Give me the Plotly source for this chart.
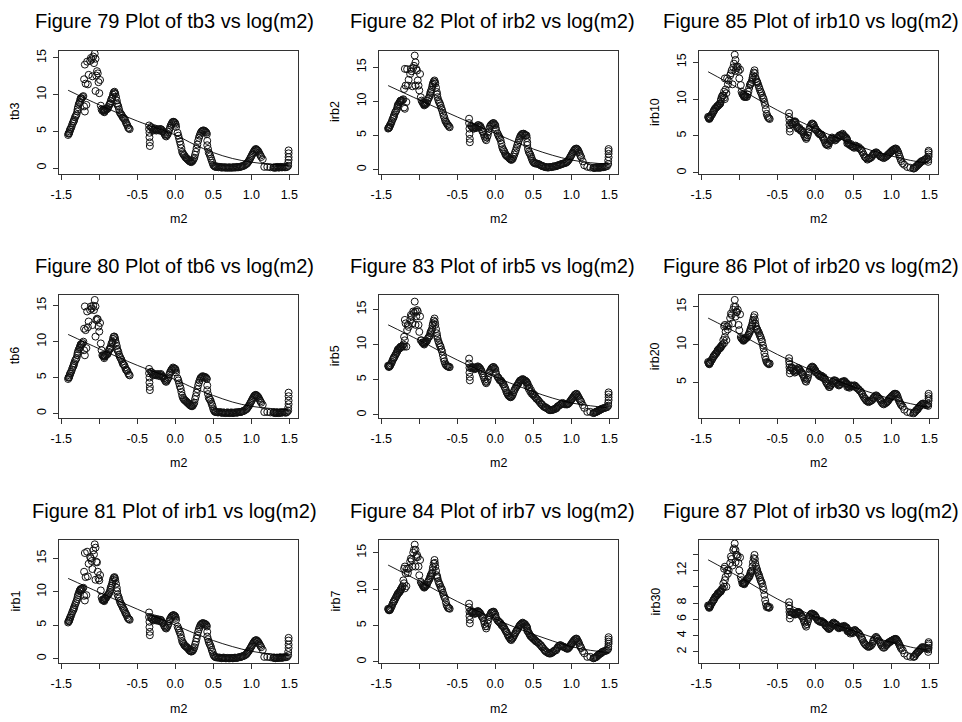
import plotly.graph_objects as go

# shared x: log(m2) -- first batch of observations
m2 = [
    -1.41, -1.40, -1.39, -1.38, -1.36, -1.34, -1.33, -1.31, -1.29, -1.28, -1.26, -1.25, -1.24, -1.22,
    -1.21, -1.20, -1.20, -1.19, -1.19, -1.18, -1.17, -1.16, -1.15, -1.14, -1.12, -1.11, -1.10, -1.09,
    -1.08, -1.07, -1.06, -1.05, -1.05, -1.04, -1.03, -1.02, -1.01, -1.00, -0.99, -0.98, -0.97, -0.96,
    -0.95, -0.94, -0.93, -0.92, -0.90, -0.88, -0.86, -0.85, -0.83, -0.82, -0.80, -0.79, -0.77, -0.76,
    -0.74, -0.72, -0.70, -0.68, -0.66, -0.64, -0.62, -0.60,
    -0.345, -0.345, -0.34, -0.34, -0.335, -0.335,
    -0.32, -0.30, -0.28, -0.26, -0.24, -0.22, -0.20, -0.18, -0.16, -0.14, -0.12, -0.10, -0.08, -0.06,
    -0.04, -0.02, 0.00, 0.01,
    0.03, 0.05, 0.07, 0.09, 0.11, 0.13, 0.15, 0.17, 0.19, 0.21, 0.23, 0.25, 0.27, 0.29, 0.31, 0.33,
    0.35, 0.37, 0.39, 0.41, 0.42, 0.42, 0.44, 0.46, 0.48, 0.50, 0.52,
    0.54, 0.57, 0.60, 0.62, 0.65, 0.67, 0.70, 0.72, 0.75, 0.77, 0.80, 0.82, 0.85, 0.87, 0.90, 0.93,
    0.95, 0.97, 0.99, 1.01, 1.03, 1.05, 1.07, 1.09, 1.11, 1.13, 1.15,
    1.17, 1.21, 1.25,
    1.29, 1.31, 1.33, 1.35, 1.37, 1.39, 1.41, 1.44, 1.47,
    1.485, 1.485, 1.49, 1.49, 1.49, 1.49,
]

# second batch of observations in the dense bands
m2_b = [
    -1.405, -1.395, -1.385, -1.37, -1.35, -1.335, -1.32, -1.30, -1.285, -1.27, -1.255, -1.245, -1.23,
    -0.945, -0.935, -0.925, -0.91, -0.89, -0.87, -0.855, -0.84, -0.825, -0.81, -0.795, -0.78, -0.765,
    -0.75, -0.73, -0.71, -0.69, -0.67, -0.65, -0.63, -0.61,
    -0.31, -0.29, -0.27, -0.25, -0.23, -0.21, -0.19, -0.17, -0.15, -0.13, -0.11, -0.09, -0.07, -0.05,
    -0.03, -0.01, 0.005,
    0.04, 0.06, 0.08, 0.10, 0.12, 0.14, 0.16, 0.18, 0.20, 0.22, 0.24, 0.26, 0.28, 0.30, 0.32, 0.34,
    0.36, 0.38, 0.40, 0.415, 0.43, 0.45, 0.47, 0.49, 0.51, 0.53,
    0.555, 0.585, 0.61, 0.635, 0.66, 0.685, 0.71, 0.735, 0.76, 0.785, 0.81, 0.835, 0.86, 0.885, 0.915,
    0.94, 0.96, 0.98, 1.00, 1.02, 1.04, 1.06, 1.08, 1.10, 1.12,
    1.30, 1.32, 1.34, 1.36, 1.38, 1.40, 1.425, 1.455,
]

tb3 = [
    4.5, 4.7, 5.0, 5.3, 5.8, 6.3, 6.6, 7.1, 7.7, 8.3, 8.9, 9.3, 9.5, 9.7,
    9.8, 12.1, 8.4, 14.1, 7.7, 11.5, 8.6, 14.5, 11.4, 12.7, 14.6, 15.0, 14.8, 12.5,
    15.2, 14.3, 15.6, 14.9, 10.5, 12.6, 13.2, 12.9, 11.7, 10.2, 12.0, 8.5, 8.0, 7.8,
    7.9, 7.8, 7.7, 7.9, 8.0, 8.3, 8.7, 9.1, 9.5, 10.0, 10.4, 10.1, 9.2, 8.6, 8.0, 7.4, 7.1, 6.8, 6.5, 6.0, 5.5, 5.3,
    5.8, 5.3, 4.8, 4.2, 3.5, 3.0,
    5.6, 5.3, 5.2, 5.3, 5.2, 5.2, 5.3, 5.2, 5.0, 4.6, 4.3, 4.6, 5.2, 5.8, 6.2, 6.3, 6.1, 5.6,
    4.8, 4.0, 3.2, 2.2, 1.8, 1.5, 1.3, 1.1, 0.9, 0.8, 1.0, 1.4, 2.2, 3.2, 4.1, 4.7, 5.0, 5.1, 5.0, 4.8,
    3.7, 3.1, 2.1, 1.6, 1.0, 0.4, 0.2,
    0.15, 0.1, 0.1, 0.1, 0.05, 0.05, 0.05, 0.05, 0.05, 0.1, 0.1, 0.1, 0.15, 0.2, 0.3, 0.5,
    0.7, 1.0, 1.4, 1.8, 2.2, 2.5, 2.5, 2.3, 1.9, 1.5, 1.2,
    0.15, 0.15, 0.1,
    0.05, 0.05, 0.1, 0.1, 0.1, 0.1, 0.1, 0.1, 0.15,
    0.3, 0.7, 1.1, 1.5, 2.0, 2.4,
]
tb3_b = [
    4.7, 4.8, 5.2, 5.5, 6.1, 6.4, 6.9, 7.3, 8.0, 8.7, 9.0, 9.5, 9.5,
    8.0, 7.6, 7.9, 8.1, 8.1, 8.6, 8.8, 9.4, 9.7, 10.3, 10.2, 9.7, 8.8, 8.4, 7.6, 7.3, 6.9, 6.7, 6.2, 5.8, 5.4,
    5.5, 5.1, 5.4, 5.1, 5.3, 5.1, 5.3, 5.0, 4.8, 4.4, 4.5, 4.9, 5.5, 6.0, 6.3, 6.2, 5.9,
    4.4, 3.6, 2.7, 2.0, 1.7, 1.4, 1.2, 1.0, 0.85, 0.9, 1.2, 1.8, 2.7, 3.7, 4.4, 4.9, 5.1, 5.1, 4.9, 4.6,
    2.6, 1.9, 1.3, 0.7, 0.3, 0.15,
    0.2, 0.15, 0.05, 0.1, 0.1, 0.05, 0.1, 0.05, 0.1, 0.05, 0.15, 0.1, 0.2, 0.25, 0.4,
    0.6, 0.85, 1.2, 1.6, 2.0, 2.35, 2.6, 2.4, 2.1, 1.7,
    0.1, 0.05, 0.15, 0.05, 0.15, 0.1, 0.15, 0.1,
]

tb6 = [
    4.8, 5.0, 5.3, 5.6, 6.1, 6.6, 7.0, 7.5, 8.1, 8.6, 9.1, 9.4, 9.6, 9.8,
    10.0, 11.8, 8.8, 14.9, 8.1, 11.6, 9.1, 14.2, 12.0, 12.8, 14.4, 14.9, 14.6, 12.3,
    15.0, 14.4, 15.8, 14.9, 10.7, 13.0, 13.2, 13.1, 12.1, 11.4, 12.6, 9.75, 8.8, 8.1,
    8.0, 7.9, 7.9, 8.0, 8.2, 8.6, 9.0, 9.3, 9.9, 10.4, 10.7, 10.2, 9.4, 8.8, 8.2, 7.7, 7.2, 6.8, 6.4, 6.0, 5.6, 5.3,
    6.2, 5.6, 5.0, 4.3, 3.7, 3.25,
    5.8, 5.5, 5.4, 5.4, 5.4, 5.3, 5.4, 5.3, 5.1, 4.7, 4.4, 4.8, 5.4, 5.9, 6.2, 6.3, 6.2, 5.7,
    4.9, 4.2, 3.5, 2.5, 2.0, 1.8, 1.6, 1.4, 1.2, 1.05, 1.1, 1.5, 2.4, 3.4, 4.3, 4.9, 5.1, 5.1, 5.1, 4.9,
    3.9, 3.25, 2.2, 1.9, 1.3, 0.6, 0.25,
    0.2, 0.15, 0.15, 0.1, 0.1, 0.1, 0.1, 0.1, 0.1, 0.1, 0.15, 0.15, 0.2, 0.25, 0.35, 0.55,
    0.8, 1.1, 1.5, 1.9, 2.3, 2.55, 2.5, 2.3, 1.9, 1.5, 1.2,
    0.2, 0.2, 0.15,
    0.1, 0.1, 0.1, 0.1, 0.1, 0.15, 0.15, 0.15, 0.2,
    0.4, 0.8, 1.3, 1.8, 2.4, 2.9,
]
tb6_b = [
    5.0, 5.1, 5.5, 5.8, 6.4, 6.8, 7.3, 7.7, 8.4, 8.9, 9.2, 9.6, 9.6,
    8.1, 7.7, 8.1, 8.2, 8.3, 8.9, 9.0, 9.7, 10.0, 10.7, 10.5, 9.8, 9.0, 8.6, 7.9, 7.5, 6.9, 6.7, 6.1, 5.9, 5.4,
    5.7, 5.3, 5.5, 5.3, 5.5, 5.2, 5.5, 5.1, 4.9, 4.5, 4.6, 5.0, 5.7, 6.1, 6.4, 6.2, 6.0,
    4.6, 3.8, 3.0, 2.2, 1.9, 1.7, 1.5, 1.3, 1.1, 1.0, 1.3, 2.0, 2.9, 3.9, 4.6, 5.0, 5.2, 5.0, 5.0, 4.8,
    2.7, 2.0, 1.6, 1.0, 0.4, 0.2,
    0.15, 0.2, 0.1, 0.15, 0.05, 0.15, 0.05, 0.15, 0.05, 0.15, 0.1, 0.2, 0.2, 0.3, 0.45,
    0.65, 0.95, 1.3, 1.7, 2.1, 2.45, 2.6, 2.4, 2.1, 1.7,
    0.15, 0.05, 0.15, 0.05, 0.15, 0.1, 0.2, 0.1,
]

irb1 = [
    5.4, 5.6, 5.9, 6.2, 6.8, 7.3, 7.7, 8.3, 8.9, 9.5, 10.1, 10.3, 10.4, 10.5,
    10.6, 13.0, 9.4, 15.8, 8.7, 12.2, 9.5, 16.0, 12.3, 14.2, 15.2, 15.0, 14.6, 13.4,
    16.2, 15.6, 17.1, 16.6, 11.8, 14.5, 14.4, 13.0, 12.0, 11.7, 12.5, 10.2, 9.2, 8.8,
    8.7, 8.7, 8.8, 9.0, 9.3, 9.6, 10.0, 10.6, 11.2, 11.8, 12.2, 11.7, 10.6, 9.6, 9.0, 8.3, 7.9, 7.4, 6.9, 6.5, 6.0, 5.8,
    6.9, 6.2, 5.5, 4.7, 4.0, 3.5,
    6.2, 5.9, 5.8, 5.9, 5.8, 5.7, 5.8, 5.6, 5.3, 4.8, 4.5, 4.9, 5.6, 6.1, 6.4, 6.5, 6.3, 5.8,
    4.8, 4.2, 3.6, 2.6, 2.2, 1.9, 1.7, 1.5, 1.2, 1.05, 1.2, 1.7, 2.5, 3.5, 4.4, 5.0, 5.25, 5.3, 5.2, 5.0,
    4.0, 3.3, 2.5, 2.0, 1.3, 0.6, 0.3,
    0.2, 0.15, 0.1, 0.1, 0.1, 0.05, 0.05, 0.05, 0.05, 0.1, 0.1, 0.15, 0.2, 0.3, 0.4, 0.6,
    0.9, 1.2, 1.6, 2.0, 2.4, 2.7, 2.75, 2.5, 2.1, 1.7, 1.3,
    0.25, 0.25, 0.2,
    0.1, 0.1, 0.1, 0.1, 0.15, 0.15, 0.15, 0.2, 0.25,
    0.5, 1.0, 1.6, 2.1, 2.7, 3.1,
]
irb1_b = [
    5.6, 5.7, 6.1, 6.5, 7.1, 7.5, 8.0, 8.6, 9.2, 9.8, 10.2, 10.4, 10.4,
    8.9, 8.6, 9.0, 9.1, 9.5, 9.8, 10.3, 10.9, 11.5, 12.1, 12.0, 11.2, 10.1, 9.3, 8.6, 8.1, 7.6, 7.2, 6.7, 6.2, 5.9,
    6.0, 5.7, 6.0, 5.7, 5.9, 5.6, 5.8, 5.4, 5.0, 4.6, 4.7, 5.2, 5.9, 6.3, 6.5, 6.4, 6.1,
    4.5, 3.9, 3.1, 2.4, 2.0, 1.8, 1.6, 1.3, 1.1, 1.1, 1.4, 2.1, 3.0, 4.0, 4.7, 5.1, 5.3, 5.2, 5.1, 4.8,
    2.9, 2.2, 1.7, 1.0, 0.4, 0.2,
    0.15, 0.15, 0.05, 0.15, 0.05, 0.1, 0.05, 0.1, 0.05, 0.15, 0.1, 0.2, 0.25, 0.35, 0.5,
    0.75, 1.05, 1.4, 1.8, 2.2, 2.55, 2.75, 2.6, 2.3, 1.9,
    0.15, 0.05, 0.15, 0.1, 0.2, 0.1, 0.2, 0.2,
]

irb2 = [
    6.0, 6.1, 6.3, 6.6, 7.1, 7.6, 8.0, 8.5, 9.0, 9.5, 9.8, 10.0, 10.1, 10.2,
    10.3, 11.8, 9.1, 14.75, 8.9, 12.3, 9.9, 14.7, 12.3, 13.15, 14.0, 14.75, 14.4, 12.2,
    14.9, 15.2, 16.7, 15.7, 12.3, 14.75, 14.5, 13.05, 12.3, 11.6, 14.0, 10.6, 10.1, 9.9,
    9.7, 9.6, 9.5, 9.6, 9.8, 10.4, 10.9, 11.4, 12.1, 12.6, 13.05, 12.6, 11.35, 10.6, 9.9, 9.4, 8.7, 7.9, 7.2, 6.8, 6.5, 6.2,
    7.45, 6.8, 6.0, 5.2, 4.5, 4.0,
    6.4, 6.2, 6.0, 6.1, 6.3, 6.5, 6.4, 5.9, 5.5, 4.8, 4.3, 5.0, 6.0, 6.5, 6.7, 6.8, 6.5, 5.8,
    5.3, 4.8, 4.3, 3.3, 2.8, 2.3, 2.0, 1.85, 1.6, 1.4, 1.6, 2.2, 2.8, 3.6, 4.3, 4.9, 5.2, 5.26, 5.1, 5.0,
    4.0, 3.6, 2.6, 2.2, 1.6, 1.1, 0.9,
    0.9, 0.8, 0.6, 0.5, 0.4, 0.35, 0.3, 0.35, 0.4, 0.45, 0.5, 0.6, 0.7, 0.8, 0.9, 1.0,
    1.2, 1.5, 1.9, 2.3, 2.7, 3.0, 3.07, 2.8, 2.3, 1.8, 1.2,
    0.63, 0.4, 0.3,
    0.25, 0.25, 0.3, 0.3, 0.3, 0.3, 0.35, 0.4, 0.5,
    0.8, 1.3, 1.8, 2.3, 2.7, 3.0,
]
irb2_b = [
    6.1, 6.2, 6.5, 6.8, 7.4, 7.8, 8.3, 8.7, 9.3, 9.6, 9.9, 10.1, 10.1,
    9.8, 9.4, 9.7, 9.6, 10.1, 10.6, 11.2, 11.7, 12.4, 12.9, 12.8, 12.0, 11.0, 10.2, 9.7, 9.0, 8.3, 7.6, 7.0, 6.6, 6.3,
    6.3, 6.0, 6.2, 6.1, 6.5, 6.3, 6.2, 5.6, 5.1, 4.5, 4.7, 5.5, 6.3, 6.6, 6.8, 6.6, 6.1,
    5.0, 4.6, 3.8, 3.0, 2.6, 2.1, 1.9, 1.7, 1.5, 1.5, 1.9, 2.5, 3.2, 3.9, 4.6, 5.0, 5.2, 5.2, 5.0, 4.6,
    3.0, 2.4, 1.9, 1.3, 1.0, 0.9,
    0.85, 0.7, 0.55, 0.45, 0.35, 0.3, 0.35, 0.35, 0.45, 0.45, 0.55, 0.65, 0.75, 0.85, 0.95,
    1.1, 1.35, 1.7, 2.1, 2.5, 2.85, 3.05, 2.95, 2.55, 2.0,
    0.25, 0.3, 0.3, 0.25, 0.3, 0.35, 0.35, 0.45,
]

irb5 = [
    7.0, 6.8, 6.9, 7.1, 7.5, 8.0, 8.2, 8.6, 9.0, 9.3, 9.45, 9.6, 9.7, 9.8,
    10.0, 11.1, 9.7, 13.5, 10.6, 13.0, 9.7, 12.05, 12.8, 12.5, 13.5, 14.2, 14.0, 13.0,
    14.7, 14.5, 16.1, 14.7, 12.8, 14.0, 14.9, 14.7, 12.8, 11.8, 14.0, 10.6, 10.6, 10.3,
    10.2, 10.1, 10.2, 10.4, 10.5, 11.0, 11.3, 11.8, 12.3, 13.0, 13.7, 12.8, 11.6, 10.9, 10.2, 9.7, 9.0, 8.0, 7.3, 7.0, 6.9, 6.8,
    8.0, 7.3, 6.7, 6.0, 5.4, 4.9,
    6.8, 6.7, 6.6, 6.6, 6.8, 6.8, 6.6, 6.2, 5.6, 5.0, 4.5, 5.0, 6.0, 6.4, 6.7, 6.8, 6.5, 5.8,
    5.4, 5.1, 4.9, 4.6, 4.3, 3.8, 3.2, 2.8, 2.6, 2.56, 2.9, 3.5, 3.9, 4.2, 4.6, 4.9, 5.0, 5.0, 4.9, 4.7,
    4.5, 4.1, 3.7, 3.3, 3.0, 2.8, 2.6,
    2.3, 2.0, 1.6, 1.4, 1.1, 1.0, 0.8, 0.66, 0.7, 0.8, 0.9, 1.2, 1.4, 1.6, 1.6, 1.5,
    1.5, 1.7, 2.0, 2.3, 2.6, 2.9, 3.0, 2.6, 2.2, 1.85, 1.4,
    1.0, 0.43, 0.43,
    0.25, 0.35, 0.43, 0.55, 0.66, 0.8, 0.9, 1.0, 1.1,
    1.3, 1.7, 2.1, 2.5, 2.9, 3.2,
]
irb5_b = [
    6.9, 6.9, 7.0, 7.3, 7.8, 8.1, 8.4, 8.8, 9.2, 9.4, 9.5, 9.7, 9.7,
    10.3, 10.0, 10.3, 10.4, 10.8, 11.1, 11.6, 12.0, 12.7, 13.4, 13.2, 12.2, 11.2, 10.5, 9.9, 9.3, 8.5, 7.6, 7.1, 6.9, 6.8,
    6.6, 6.8, 6.5, 6.7, 6.9, 6.7, 6.4, 5.9, 5.3, 4.7, 4.7, 5.5, 6.2, 6.6, 6.8, 6.6, 6.1,
    5.3, 4.9, 4.8, 4.4, 4.0, 3.5, 3.0, 2.7, 2.5, 2.7, 3.2, 3.7, 4.1, 4.4, 4.8, 4.9, 5.1, 4.9, 4.8, 4.6,
    4.3, 3.9, 3.5, 3.1, 2.9, 2.5,
    2.2, 1.8, 1.5, 1.2, 1.1, 0.9, 0.7, 0.7, 0.75, 0.85, 1.05, 1.3, 1.5, 1.7, 1.5,
    1.5, 1.6, 1.85, 2.15, 2.45, 2.75, 2.95, 2.8, 2.4, 2.0,
    0.3, 0.4, 0.5, 0.6, 0.75, 0.85, 0.95, 1.05,
]

irb7 = [
    7.3, 7.1, 7.1, 7.3, 7.7, 8.2, 8.4, 8.8, 9.2, 9.4, 9.6, 9.8, 10.0, 10.4,
    11.2, 12.8, 10.8, 13.1, 10.1, 12.2, 10.4, 12.8, 12.2, 12.8, 13.8, 14.2, 14.0, 13.1,
    15.0, 15.4, 16.1, 15.4, 13.1, 14.4, 14.7, 14.4, 13.1, 11.9, 14.0, 11.0, 10.8, 10.6,
    10.4, 10.3, 10.3, 10.4, 10.6, 11.1, 11.5, 11.9, 12.2, 13.0, 14.0, 13.1, 11.9, 11.5, 10.8, 10.3, 9.9, 9.2, 8.7, 7.8, 7.4, 7.3,
    8.0, 7.5, 6.9, 6.3, 5.8, 5.3,
    7.0, 6.8, 6.65, 6.7, 6.9, 6.9, 6.7, 6.3, 6.0, 5.2, 4.6, 5.3, 6.2, 6.65, 6.8, 6.9, 6.5, 6.0,
    5.7, 5.5, 5.3, 5.0, 4.8, 4.4, 4.1, 3.6, 3.3, 3.0, 3.3, 3.7, 4.1, 4.4, 4.8, 5.1, 5.3, 5.3, 5.2, 4.9,
    4.6, 4.3, 4.0, 3.6, 3.4, 3.2, 3.0,
    2.8, 2.6, 2.3, 2.0, 1.6, 1.4, 1.2, 1.15, 1.3, 1.5, 1.6, 2.0, 2.3, 2.2, 2.1, 1.9,
    1.8, 2.0, 2.3, 2.6, 2.9, 3.1, 3.2, 2.8, 2.3, 1.9, 1.5,
    1.2, 0.7, 0.7,
    0.5, 0.6, 0.7, 0.9, 1.1, 1.2, 1.4, 1.5, 1.6,
    1.8, 2.1, 2.5, 2.8, 3.1, 3.4,
]
irb7_b = [
    7.2, 7.2, 7.2, 7.5, 8.0, 8.3, 8.6, 9.0, 9.3, 9.5, 9.7, 9.9, 10.2,
    10.5, 10.2, 10.4, 10.5, 10.9, 11.3, 11.7, 12.1, 12.6, 13.5, 13.6, 12.5, 11.7, 11.1, 10.6, 10.1, 9.5, 8.9, 8.2, 7.6, 7.4,
    6.8, 6.9, 6.6, 6.8, 7.0, 6.8, 6.5, 6.1, 5.6, 4.9, 4.9, 5.8, 6.4, 6.8, 6.9, 6.7, 6.2,
    5.6, 5.4, 5.1, 4.9, 4.6, 4.2, 3.8, 3.4, 3.1, 3.2, 3.5, 3.9, 4.3, 4.6, 5.0, 5.2, 5.4, 5.2, 5.0, 4.8,
    4.2, 3.8, 3.5, 3.3, 3.1, 2.9,
    2.7, 2.4, 2.1, 1.8, 1.5, 1.3, 1.2, 1.2, 1.4, 1.6, 1.8, 2.2, 2.3, 2.1, 2.0,
    1.85, 1.9, 2.15, 2.45, 2.75, 3.0, 3.2, 3.0, 2.6, 2.1,
    0.55, 0.65, 0.8, 1.0, 1.15, 1.3, 1.45, 1.55,
]

irb10 = [
    7.6, 7.4, 7.4, 7.6, 7.9, 8.3, 8.5, 8.8, 9.0, 9.1, 9.3, 9.4, 10.0, 10.5,
    10.5, 11.0, 10.2, 12.8, 10.0, 11.3, 10.8, 12.8, 12.0, 12.5, 13.2, 13.5, 13.9, 12.0,
    14.3, 14.8, 16.0, 15.3, 13.8, 14.4, 14.2, 14.4, 13.8, 12.8, 14.0, 11.9, 11.0, 10.7,
    10.6, 10.4, 10.3, 10.4, 10.3, 11.0, 11.9, 12.1, 12.6, 13.2, 13.9, 13.0, 12.4, 12.2, 11.6, 11.0, 10.5, 10.0, 9.2, 8.0, 7.5, 7.3,
    8.1, 7.6, 7.1, 6.5, 6.0, 5.6,
    6.8, 6.6, 6.9, 6.9, 6.2, 6.0, 5.9, 5.7, 5.5, 5.0, 4.6, 5.1, 5.9, 6.4, 6.7, 6.5, 6.0, 5.8,
    5.6, 5.4, 5.2, 5.0, 4.6, 4.1, 3.8, 3.7, 4.3, 4.6, 4.7, 4.6, 4.5, 4.7, 5.0, 5.1, 5.2, 5.1, 4.9, 4.7,
    4.4, 4.0, 4.0, 3.8, 3.6, 3.5, 3.6,
    3.6, 3.5, 3.2, 2.8, 2.2, 2.0, 1.9, 2.0, 2.3, 2.6, 2.8, 2.6, 2.3, 2.2, 2.0, 2.2,
    2.4, 2.6, 2.8, 3.0, 3.1, 3.3, 3.2, 2.8, 2.2, 1.6, 1.3,
    1.1, 0.8, 0.7,
    0.6, 0.7, 0.9, 1.1, 1.3, 1.5, 1.6, 1.8, 2.0,
    1.5, 1.8, 2.2, 2.5, 2.8, 3.0,
]
irb10_b = [
    7.5, 7.3, 7.5, 7.8, 8.1, 8.4, 8.7, 8.9, 9.1, 9.2, 9.4, 9.7, 10.3,
    10.5, 10.3, 10.4, 10.3, 10.6, 11.5, 12.0, 12.3, 12.9, 13.6, 13.5, 12.7, 12.3, 11.9, 11.3, 10.8, 10.2, 9.6, 8.6, 7.7, 7.4,
    6.6, 6.8, 7.0, 6.5, 6.0, 6.1, 5.7, 5.7, 5.2, 4.8, 4.8, 5.5, 6.2, 6.6, 6.6, 6.2, 5.9,
    5.4, 5.2, 5.2, 4.8, 4.4, 3.9, 3.9, 4.0, 4.4, 4.8, 4.6, 4.4, 4.7, 4.8, 5.1, 5.0, 5.3, 5.0, 4.8, 4.6,
    4.1, 3.8, 3.9, 3.6, 3.4, 3.7,
    3.4, 3.3, 3.0, 2.5, 2.1, 1.8, 2.0, 2.1, 2.5, 2.7, 2.7, 2.5, 2.2, 2.1, 2.1,
    2.3, 2.5, 2.7, 2.9, 3.1, 3.2, 3.3, 3.0, 2.5, 1.9,
    0.6, 0.8, 1.0, 1.2, 1.4, 1.6, 1.7, 1.9,
]

irb20 = [
    7.7, 7.5, 7.5, 7.7, 8.0, 8.4, 8.5, 8.8, 9.1, 9.3, 9.5, 9.6, 9.7, 10.0,
    10.6, 12.4, 10.2, 12.6, 11.0, 11.7, 10.6, 12.4, 12.0, 12.6, 13.5, 14.1, 13.9, 12.8,
    14.6, 15.0, 15.9, 15.0, 13.7, 14.3, 14.3, 14.6, 12.6, 11.9, 14.0, 11.0, 10.8, 10.7,
    10.6, 10.6, 10.7, 10.8, 10.9, 11.3, 11.7, 12.1, 12.6, 13.2, 13.9, 12.8, 12.1, 11.9, 11.5, 11.0, 10.4, 9.5, 8.4, 7.7, 7.5, 7.5,
    8.2, 7.8, 7.4, 7.0, 6.6, 6.2,
    6.9, 6.85, 6.5, 6.4, 6.7, 6.85, 6.6, 6.3, 6.0, 5.5, 5.1, 5.6, 6.4, 6.9, 7.1, 6.9, 6.6, 6.3,
    6.2, 6.0, 5.8, 5.75, 5.7, 5.4, 4.9, 4.6, 4.4, 4.7, 5.1, 5.3, 5.2, 4.9, 4.6, 4.8, 5.1, 5.1, 5.1, 4.9,
    4.7, 4.4, 4.4, 4.6, 4.6, 4.5, 4.6,
    4.4, 4.1, 3.8, 3.4, 2.9, 2.6, 2.4, 2.5, 2.7, 3.0, 3.3, 3.1, 2.8, 2.4, 2.1, 2.3,
    2.5, 2.8, 3.0, 3.2, 3.4, 3.5, 3.4, 2.9, 2.4, 2.0, 1.8,
    1.4, 1.1, 1.0,
    0.9, 1.1, 1.35, 1.5, 1.8, 2.0, 2.2, 2.1, 2.0,
    1.9, 2.2, 2.6, 2.9, 3.2, 3.5,
]
irb20_b = [
    7.6, 7.4, 7.6, 7.9, 8.2, 8.5, 8.7, 8.9, 9.2, 9.4, 9.5, 9.7, 9.9,
    10.5, 10.7, 10.7, 10.9, 11.1, 11.5, 11.9, 12.4, 12.9, 13.6, 13.3, 12.4, 12.0, 11.7, 11.2, 10.7, 9.9, 8.9, 8.0, 7.6, 7.4,
    7.0, 6.6, 6.3, 6.6, 6.9, 6.7, 6.4, 6.1, 5.7, 5.2, 5.4, 6.0, 6.7, 7.0, 7.0, 6.7, 6.4,
    6.0, 5.8, 5.9, 5.6, 5.5, 5.1, 4.8, 4.4, 4.6, 4.9, 5.2, 5.2, 5.0, 4.7, 4.7, 5.0, 5.0, 5.2, 4.9, 4.8,
    4.5, 4.3, 4.5, 4.5, 4.6, 4.4,
    4.2, 3.9, 3.6, 3.1, 2.8, 2.5, 2.5, 2.6, 2.9, 3.2, 3.2, 2.9, 2.6, 2.2, 2.2,
    2.4, 2.6, 2.9, 3.1, 3.3, 3.5, 3.5, 3.2, 2.6, 2.2,
    1.0, 1.2, 1.4, 1.7, 1.9, 2.1, 2.2, 2.0,
]

irb30 = [
    7.7, 7.5, 7.5, 7.7, 8.0, 8.35, 8.5, 8.8, 9.0, 9.2, 9.3, 9.4, 9.5, 9.8,
    10.4, 12.2, 10.0, 12.45, 10.8, 11.2, 10.0, 12.0, 11.6, 12.0, 12.9, 13.7, 13.4, 12.6,
    14.5, 14.7, 15.3, 14.5, 13.0, 13.9, 13.9, 13.7, 12.9, 12.0, 13.6, 11.2, 10.8, 10.4,
    10.4, 10.4, 10.4, 10.6, 10.8, 11.1, 11.4, 11.8, 12.0, 13.0, 13.9, 12.9, 12.2, 11.8, 11.4, 10.8, 10.4, 9.6, 8.35, 7.5, 7.5, 7.5,
    8.1, 7.7, 7.3, 6.9, 6.5, 6.1,
    6.9, 6.8, 6.7, 6.6, 6.8, 6.9, 6.7, 6.4, 6.1, 5.6, 5.1, 5.7, 6.3, 6.6, 6.7, 6.6, 6.4, 6.2,
    5.9, 5.8, 5.7, 5.7, 5.6, 5.3, 5.1, 4.9, 4.9, 5.2, 5.5, 5.5, 5.4, 5.1, 4.9, 5.0, 5.1, 5.1, 5.1, 5.0,
    4.8, 4.6, 4.5, 4.25, 4.4, 4.6, 4.7,
    4.5, 4.3, 3.85, 3.5, 3.0, 2.8, 2.6, 2.7, 3.0, 3.5, 3.85, 3.6, 3.2, 2.8, 2.5, 2.8,
    3.0, 3.2, 3.3, 3.4, 3.5, 3.6, 3.5, 3.2, 2.8, 2.4, 2.2,
    1.8, 1.5, 1.4,
    1.4, 1.5, 1.8, 2.0, 2.2, 2.4, 2.6, 2.5, 2.4,
    2.0, 2.3, 2.5, 2.8, 3.0, 3.2,
]
irb30_b = [
    7.6, 7.4, 7.6, 7.9, 8.2, 8.4, 8.7, 8.9, 9.1, 9.2, 9.4, 9.4, 9.7,
    10.5, 10.3, 10.5, 10.7, 11.0, 11.2, 11.6, 11.9, 12.5, 13.5, 13.4, 12.5, 12.0, 11.6, 11.1, 10.6, 10.0, 9.0, 7.9, 7.6, 7.4,
    6.8, 6.8, 6.6, 6.7, 6.9, 6.8, 6.5, 6.3, 5.8, 5.3, 5.4, 6.0, 6.5, 6.7, 6.6, 6.5, 6.3,
    5.9, 5.7, 5.8, 5.6, 5.5, 5.2, 5.0, 4.8, 5.0, 5.4, 5.6, 5.4, 5.3, 5.0, 5.0, 5.1, 5.0, 5.2, 5.0, 4.9,
    4.5, 4.6, 4.4, 4.3, 4.5, 4.6,
    4.4, 4.1, 3.7, 3.2, 2.9, 2.7, 2.7, 2.8, 3.3, 3.7, 3.7, 3.4, 3.0, 2.6, 2.6,
    2.9, 3.1, 3.2, 3.35, 3.45, 3.55, 3.6, 3.35, 3.0, 2.6,
    1.4, 1.7, 1.9, 2.1, 2.3, 2.5, 2.55, 2.45,
]

# fitted curves
fit_x = [-1.41, -1.0, -0.5, 0.0, 0.25, 0.5, 0.75, 1.0, 1.25, 1.49]
fit_tb3 = [10.6, 8.6, 6.4, 4.5, 3.2, 2.1, 1.3, 0.8, 0.5, 0.35]
fit_tb6 = [11.0, 9.0, 6.7, 4.7, 3.5, 2.5, 1.6, 1.0, 0.7, 0.5]
fit_irb1 = [12.0, 9.9, 7.4, 5.0, 3.8, 2.7, 1.8, 1.1, 0.7, 0.5]
fit_irb2 = [12.3, 10.2, 7.7, 5.3, 4.1, 3.0, 2.1, 1.4, 1.0, 0.8]
fit_irb5 = [12.8, 10.6, 7.8, 5.4, 4.3, 3.3, 2.4, 1.7, 1.3, 1.0]
fit_irb7 = [13.3, 11.1, 8.3, 5.9, 4.8, 3.8, 2.9, 2.1, 1.6, 1.3]
fit_irb10 = [13.7, 11.4, 8.5, 6.0, 4.9, 3.9, 3.0, 2.3, 1.7, 1.3]
fit_irb20 = [13.5, 11.4, 8.7, 6.4, 5.4, 4.4, 3.6, 2.8, 2.2, 1.7]
fit_irb30 = [13.3, 11.2, 8.5, 6.3, 5.4, 4.6, 3.8, 3.2, 2.6, 2.2]

x_tickvals = [-1.5, -1.0, -0.5, 0.0, 0.5, 1.0, 1.5]
x_ticktext = ["-1.5", "", "-0.5", "0.0", "0.5", "1.0", "1.5"]

# panels in row-major order
panels = [
    ("79", "tb3", tb3, tb3_b, fit_tb3),
    ("82", "irb2", irb2, irb2_b, fit_irb2),
    ("85", "irb10", irb10, irb10_b, fit_irb10),
    ("80", "tb6", tb6, tb6_b, fit_tb6),
    ("83", "irb5", irb5, irb5_b, fit_irb5),
    ("86", "irb20", irb20, irb20_b, fit_irb20),
    ("81", "irb1", irb1, irb1_b, fit_irb1),
    ("84", "irb7", irb7, irb7_b, fit_irb7),
    ("87", "irb30", irb30, irb30_b, fit_irb30),
]
for _, name, ys, yb, _f in panels:
    assert len(ys) == len(m2), (name, len(ys), len(m2))
    assert len(yb) == len(m2_b), (name + "_b", len(yb), len(m2_b))

y_ranges = {
    "tb3": [-0.75, 16.02], "irb2": [-0.58, 17.44], "irb10": [-0.08, 16.58],
    "tb6": [-0.56, 16.49], "irb5": [-0.37, 17.04], "irb20": [0.37, 16.55],
    "irb1": [-0.66, 17.75], "irb7": [-0.14, 16.74], "irb30": [0.64, 15.73],
}
std_ticks = ([0, 5, 10, 15], ["0", "5", "10", "15"])
y_ticks = {
    "irb20": ([5, 10, 15], ["5", "10", "15"]),
    "irb30": ([2, 4, 6, 8, 10, 12, 14], ["2", "4", "6", "8", "", "12", ""]),
}

W, H = 962, 722
col_px = [(59, 297.7), (379, 617.7), (699, 937.7)]
row_px = [(50.5, 173.5), (295, 417.5), (540, 663)]
FONT = "Liberation Sans, Arial, Helvetica, sans-serif"

fig = go.Figure()
layout = dict(
    template="none",
    width=W, height=H, autosize=False,
    margin=dict(l=0, r=0, t=0, b=0, pad=0),
    paper_bgcolor="white", plot_bgcolor="white",
    showlegend=False, font=dict(family=FONT, color="black"),
)
annotations = []

for k, (fignum, name, ys, yb, fit) in enumerate(panels):
    r, c = divmod(k, 3)
    sfx = "" if k == 0 else str(k + 1)
    x0, x1 = col_px[c]
    y0, y1 = row_px[r]
    tv, tt = y_ticks.get(name, std_ticks)
    layout["xaxis" + sfx] = dict(
        domain=[x0 / W, x1 / W], range=[-1.53, 1.61], anchor="y" + sfx,
        automargin=False,
        tickvals=x_tickvals, ticktext=x_ticktext, ticks="outside", ticklen=5,
        tickwidth=1, tickcolor="#333", showline=True, mirror=True,
        linecolor="#333", linewidth=1, showgrid=False, zeroline=False,
        tickfont=dict(size=12.5, family=FONT, color="black"), ticklabelstandoff=4,
    )
    layout["yaxis" + sfx] = dict(
        domain=[1 - y1 / H, 1 - y0 / H], range=y_ranges[name], anchor="x" + sfx,
        automargin=False,
        tickvals=tv, ticktext=tt, ticks="outside", ticklen=5, tickwidth=1,
        tickcolor="#333", showline=True, mirror=True, linecolor="#333",
        linewidth=1, showgrid=False, zeroline=False, tickangle=-90,
        tickfont=dict(size=12.5, family=FONT, color="black"), ticklabelstandoff=2,
    )
    fig.add_trace(go.Scatter(
        x=m2 + m2_b, y=ys + yb, mode="markers", xaxis="x" + sfx, yaxis="y" + sfx,
        marker=dict(symbol="circle-open", size=7, color="#111111",
                    line=dict(width=1.0, color="#111111")),
        hoverinfo="skip",
    ))
    fig.add_trace(go.Scatter(
        x=fit_x, y=fit, mode="lines", xaxis="x" + sfx, yaxis="y" + sfx,
        line=dict(color="black", width=0.9, shape="spline"), hoverinfo="skip",
    ))
    cx = x0 + 115 - 1.5 * c
    annotations.append(dict(
        text=f"Figure {fignum} Plot of {name} vs log(m2)", xref="paper", yref="paper",
        x=cx / W, y=1 - (y0 - 29.5) / H, xanchor="center", yanchor="middle",
        showarrow=False, font=dict(size=20, family=FONT, color="black"),
    ))
    annotations.append(dict(
        text="m2", xref="paper", yref="paper",
        x=(x0 + x1) / 2 / W, y=1 - (y1 + 45.5) / H, xanchor="center", yanchor="middle",
        showarrow=False, font=dict(size=12.5, family=FONT, color="black"),
    ))
    annotations.append(dict(
        text=name, xref="paper", yref="paper", textangle=-90,
        x=(x0 - 44) / W, y=1 - ((y0 + y1) / 2) / H, xanchor="center", yanchor="middle",
        showarrow=False, font=dict(size=12.5, family=FONT, color="black"),
    ))

layout["annotations"] = annotations
fig.update_layout(**layout)
fig.write_html("out.html")
